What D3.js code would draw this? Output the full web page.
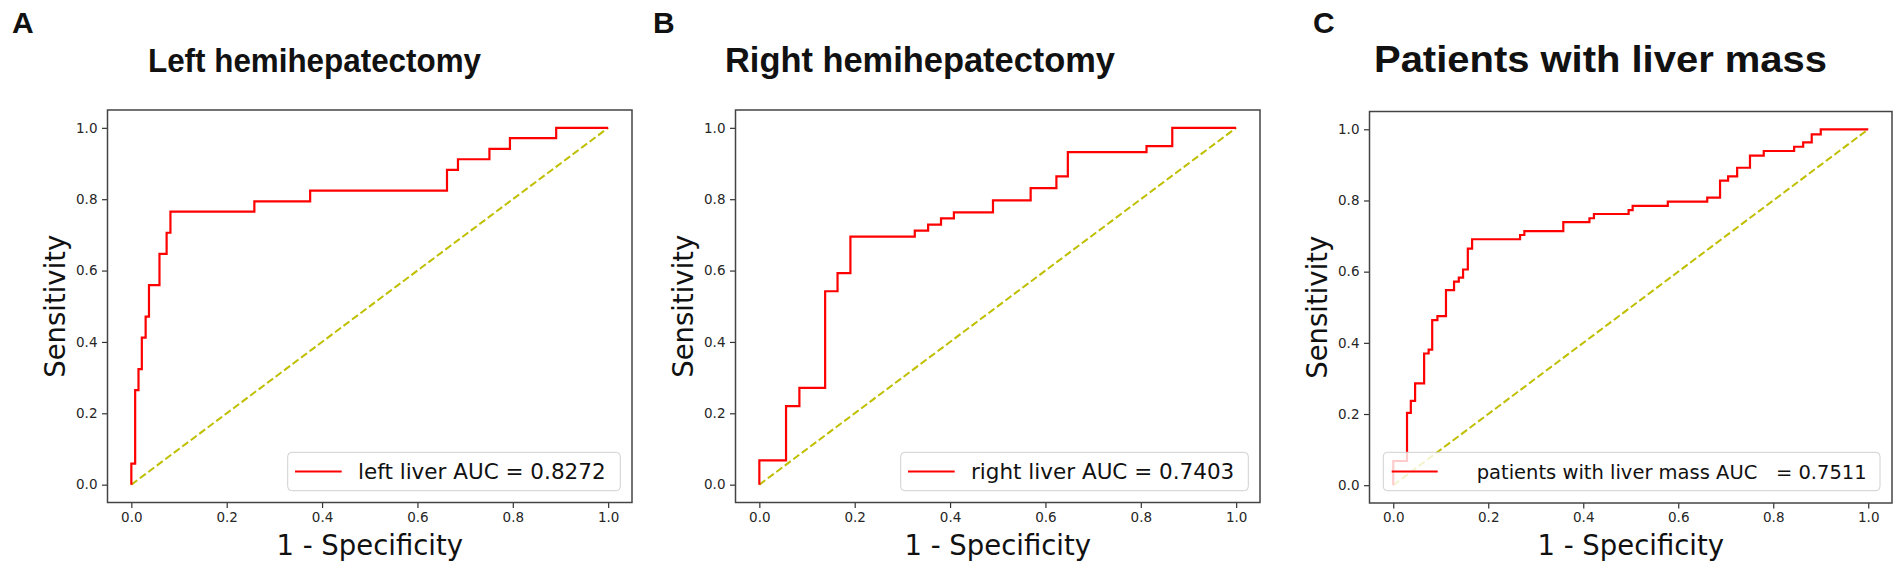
<!DOCTYPE html>
<html>
<head>
<meta charset="utf-8">
<script src="https://cdn.jsdelivr.net/npm/d3@7/dist/d3.min.js"></script>
<style>
  html, body { margin: 0; padding: 0; background: #ffffff; }
  svg { display: block; }
</style>
</head>
<body>
<svg id="chart" width="1901" height="565"></svg>
<script>
// ---------------- data ----------------
const panelLetters = ["A", "B", "C"];
const titles = ["Left hemihepatectomy", "Right hemihepatectomy", "Patients with liver mass"];
const legendLabels = ["left liver AUC = 0.8272", "right liver AUC = 0.7403", "patients with liver mass AUC   = 0.7511"];
const xAxisLabel = "1 - Specificity";
const yAxisLabel = "Sensitivity";
const tickValues = [0.0, 0.2, 0.4, 0.6, 0.8, 1.0];
const tickLabels = ["0.0", "0.2", "0.4", "0.6", "0.8", "1.0"];

// ROC corner points (false positive rate, true positive rate)
const leftFpr = [0, 0, 0.008, 0.008, 0.015, 0.015, 0.022, 0.022, 0.030, 0.030, 0.037, 0.037, 0.059, 0.059, 0.074, 0.074, 0.082, 0.082, 0.258, 0.258, 0.375, 0.375, 0.662, 0.662, 0.685, 0.685, 0.751, 0.751, 0.794, 0.794, 0.891, 0.891, 1.0];
const leftTpr = [0, 0.059, 0.059, 0.265, 0.265, 0.324, 0.324, 0.412, 0.412, 0.471, 0.471, 0.559, 0.559, 0.647, 0.647, 0.706, 0.706, 0.765, 0.765, 0.794, 0.794, 0.824, 0.824, 0.882, 0.882, 0.912, 0.912, 0.941, 0.941, 0.971, 0.971, 1.0, 1.0];

const rightFpr = [0, 0, 0.056, 0.056, 0.084, 0.084, 0.138, 0.138, 0.164, 0.164, 0.191, 0.191, 0.326, 0.326, 0.354, 0.354, 0.381, 0.381, 0.408, 0.408, 0.490, 0.490, 0.569, 0.569, 0.623, 0.623, 0.647, 0.647, 0.812, 0.812, 0.866, 0.866, 1.0];
const rightTpr = [0, 0.068, 0.068, 0.220, 0.220, 0.271, 0.271, 0.542, 0.542, 0.593, 0.593, 0.695, 0.695, 0.712, 0.712, 0.729, 0.729, 0.746, 0.746, 0.763, 0.763, 0.797, 0.797, 0.831, 0.831, 0.864, 0.864, 0.932, 0.932, 0.949, 0.949, 1.0, 1.0];

const massFpr = [0, 0, 0.029, 0.029, 0.037, 0.037, 0.046, 0.046, 0.065, 0.065, 0.0745, 0.0745, 0.082, 0.082, 0.093, 0.093, 0.111, 0.111, 0.128, 0.128, 0.138, 0.138, 0.147, 0.147, 0.157, 0.157, 0.166, 0.166, 0.267, 0.267, 0.276, 0.276, 0.358, 0.358, 0.413, 0.413, 0.4225, 0.4225, 0.4955, 0.4955, 0.504, 0.504, 0.578, 0.578, 0.661, 0.661, 0.688, 0.688, 0.705, 0.705, 0.724, 0.724, 0.751, 0.751, 0.780, 0.780, 0.844, 0.844, 0.863, 0.863, 0.881, 0.881, 0.900, 0.900, 1.0];
const massTpr = [0, 0.068, 0.068, 0.203, 0.203, 0.237, 0.237, 0.286, 0.286, 0.370, 0.370, 0.381, 0.381, 0.464, 0.464, 0.475, 0.475, 0.548, 0.548, 0.572, 0.572, 0.583, 0.583, 0.606, 0.606, 0.665, 0.665, 0.691, 0.691, 0.703, 0.703, 0.714, 0.714, 0.739, 0.739, 0.750, 0.750, 0.762, 0.762, 0.773, 0.773, 0.785, 0.785, 0.797, 0.797, 0.808, 0.808, 0.856, 0.856, 0.868, 0.868, 0.892, 0.892, 0.926, 0.926, 0.939, 0.939, 0.951, 0.951, 0.963, 0.963, 0.986, 0.986, 1.0, 1.0];

const curves = [
  { fpr: leftFpr, tpr: leftTpr },
  { fpr: rightFpr, tpr: rightTpr },
  { fpr: massFpr, tpr: massTpr }
];
const chanceLine = [0, 1];

// ---------------- layout ----------------
const layout = [
  { left: 107.5, right: 632, top: 110, bottom: 502.5, letterX: 12, titleX: 148, titleW: 333, titleFs: 34,
    leg: { x0: 287.7, x1: 620.3, h0: 295, h1: 341.7, tx: 358, fs: 21.5 } },
  { left: 735.5, right: 1260, top: 110, bottom: 502.5, letterX: 653, titleX: 725, titleW: 390, titleFs: 35,
    leg: { x0: 900.7, x1: 1248.3, h0: 908, h1: 954.7, tx: 971, fs: 21.5 } },
  { left: 1369.5, right: 1892, top: 111.5, bottom: 503, letterX: 1313, titleX: 1374, titleW: 453, titleFs: 37,
    leg: { x0: 1383.3, x1: 1880, h0: 1391.7, h1: 1437.7, tx: 1476.7, fs: 19.5 } }
];

const svg = d3.select("#chart");
svg.append("rect").attr("width", 1901).attr("height", 565).attr("fill", "#ffffff");

const tickFont = "'DejaVu Sans', sans-serif";
const titleFont = "'Liberation Sans', Arial, sans-serif";

layout.forEach((L, i) => {
  const g = svg.append("g");
  const x = d3.scaleLinear().domain([-0.05, 1.05]).range([L.left, L.right]);
  const y = d3.scaleLinear().domain([-0.05, 1.05]).range([L.bottom, L.top]);

  // panel letter
  g.append("text").attr("x", L.letterX).attr("y", 33)
    .attr("font-family", titleFont).attr("font-weight", "bold").attr("font-size", 30)
    .attr("fill", "#111").text(panelLetters[i]);

  // title
  g.append("text").attr("x", L.titleX).attr("y", 72)
    .attr("font-family", titleFont).attr("font-weight", "bold").attr("font-size", L.titleFs)
    .attr("textLength", L.titleW).attr("lengthAdjust", "spacingAndGlyphs")
    .attr("fill", "#111").text(titles[i]);

  // axes
  const xAxis = d3.axisBottom(x).tickValues(tickValues).tickFormat((d, k) => tickLabels[k]).tickSizeOuter(0).tickSize(5.5).tickPadding(4);
  const yAxis = d3.axisLeft(y).tickValues(tickValues).tickFormat((d, k) => tickLabels[k]).tickSizeOuter(0).tickSize(5.5).tickPadding(4.5);

  const gx = g.append("g").attr("transform", `translate(0,${L.bottom})`).call(xAxis);
  const gy = g.append("g").attr("transform", `translate(${L.left},0)`).call(yAxis);
  [gx, gy].forEach(a => {
    a.select(".domain").remove();
    a.selectAll(".tick line").attr("stroke", "#333").attr("stroke-width", 1.2);
    a.selectAll(".tick text").attr("font-family", tickFont).attr("font-size", 13.5).attr("fill", "#262626");
  });

  // diagonal chance line
  const diag = d3.line().x(d => x(d)).y(d => y(d));
  g.append("path").datum(chanceLine).attr("d", diag)
    .attr("fill", "none").attr("stroke", "#bfbf00").attr("stroke-width", 2)
    .attr("stroke-dasharray", "7.4,3.2");

  // ROC curve
  const c = curves[i];
  const pts = c.fpr.map((f, k) => [f, c.tpr[k]]);
  const line = d3.line().x(d => x(d[0])).y(d => y(d[1]));
  g.append("path").datum(pts).attr("d", line)
    .attr("fill", "none").attr("stroke", "#ff0000").attr("stroke-width", 2.2)
    .attr("stroke-linejoin", "miter");

  // frame
  g.append("rect").attr("x", L.left).attr("y", L.top)
    .attr("width", L.right - L.left).attr("height", L.bottom - L.top)
    .attr("fill", "none").attr("stroke", "#444").attr("stroke-width", 1.5);

  // axis labels
  g.append("text").attr("x", (L.left + L.right) / 2).attr("y", 555)
    .attr("text-anchor", "middle").attr("font-family", tickFont).attr("font-size", 27.5)
    .attr("fill", "#111").text(xAxisLabel);
  const yc = (L.top + L.bottom) / 2;
  g.append("text").attr("transform", `translate(${L.left - 43},${yc}) rotate(-90)`)
    .attr("text-anchor", "middle").attr("font-family", tickFont).attr("font-size", 27.5)
    .attr("fill", "#111").text(yAxisLabel);

  // legend
  const lg = L.leg;
  const ly0 = 452.3, ly1 = 490.7, lyc = (ly0 + ly1) / 2;
  g.append("rect").attr("x", lg.x0).attr("y", ly0).attr("width", lg.x1 - lg.x0).attr("height", ly1 - ly0)
    .attr("rx", 4).attr("fill", "#ffffff").attr("fill-opacity", 0.8)
    .attr("stroke", "#d0d0d0").attr("stroke-width", 1);
  g.append("line").attr("x1", lg.h0).attr("x2", lg.h1).attr("y1", lyc).attr("y2", lyc)
    .attr("stroke", "#ff0000").attr("stroke-width", 2.2);
  g.append("text").attr("x", lg.tx).attr("y", lyc + 7.3)
    .attr("font-family", tickFont).attr("font-size", lg.fs).attr("fill", "#111")
    .attr("xml:space", "preserve").style("white-space", "pre")
    .text(legendLabels[i]);
});
</script>
</body>
</html>
